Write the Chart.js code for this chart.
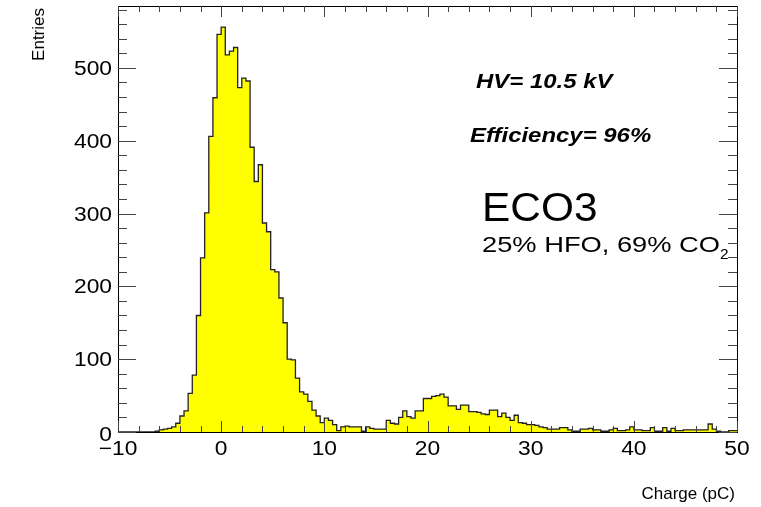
<!DOCTYPE html>
<html>
<head>
<meta charset="utf-8">
<script src="https://cdn.jsdelivr.net/npm/chart.js@4.4.1/dist/chart.umd.min.js"></script>
<style>
  html, body { margin: 0; padding: 0; background: #fff; }
  #wrap { width: 761px; height: 507px; }
</style>
</head>
<body>
<div id="wrap"><canvas id="myChart" width="761" height="507"></canvas></div>
<script>
// histogram: 150 bins of 0.4 pC from -10 to 50
const binLow = -10;
const binWidth = 0.4;
const entries = [
  0, 0, 0, 0, 0, 0, 0, 0, 0, 0,
  1, 3, 4, 5, 7, 12, 22, 29, 53, 78,
  160, 239, 301, 406, 459, 546, 556, 518, 523, 528,
  473, 486, 482, 391, 344, 367, 287, 275, 223, 220,
  184, 150, 100, 99, 74, 55, 52, 42, 30, 22,
  13, 19, 16, 10, 2, 7, 8, 7, 7, 7,
  1, 7, 5, 4, 4, 4, 16, 12, 11, 20,
  29, 21, 19, 29, 29, 46, 46, 49, 50, 52,
  48, 36, 36, 31, 37, 37, 28, 28, 27, 25,
  24, 30, 30, 21, 26, 20, 16, 23, 13, 12,
  10, 10, 9, 7, 6, 4, 4, 4, 6, 6,
  3, 1, 1, 4, 4, 5, 3, 3, 1, 1,
  3, 5, 2, 2, 3, 7, 3, 3, 2, 2,
  6, 1, 1, 6, 1, 5, 2, 2, 3, 3,
  3, 3, 3, 3, 11, 4, 1, 0, 0, 2
];
const xTicks = [-10, 0, 10, 20, 30, 40, 50];
const xTickLabels = ['\u221210', '0', '10', '20', '30', '40', '50'];
const yTicks = [0, 100, 200, 300, 400, 500];
const yTickLabels = ['0', '100', '200', '300', '400', '500'];
const yMax = 585;

// step outline points at bin edges
const stepData = entries.map((v, i) => ({x: binLow + i * binWidth, y: v}));
stepData.push({x: binLow + entries.length * binWidth, y: entries[entries.length - 1]});

const FONT = '"Liberation Sans", Arial, Helvetica, sans-serif';

// text drawn a bit wider than the font, like the original plot
function wideText(ctx, text, x, y, align, sx) {
  ctx.save();
  ctx.translate(x, y);
  ctx.scale(sx, 1);
  ctx.textAlign = align;
  ctx.fillText(text, 0, 0);
  const w = ctx.measureText(text).width * sx;
  ctx.restore();
  return w;
}

const rootFrame = {
  id: 'rootFrame',
  afterDatasetsDraw(chart) {
    const ctx = chart.ctx;
    const a = chart.chartArea;
    const xs = chart.scales.x, ys = chart.scales.y;
    ctx.save();
    ctx.strokeStyle = '#000';
    ctx.lineWidth = 1;
    ctx.strokeRect(a.left + 0.5, a.top + 0.5, a.right - a.left, a.bottom - a.top);
    ctx.strokeStyle = '#444';
    ctx.beginPath();
    for (let v = -10; v <= 50; v += 2) {
      const px = Math.round(xs.getPixelForValue(v)) + 0.5;
      const len = (v % 10 === 0) ? 11 : 6;
      ctx.moveTo(px, a.bottom); ctx.lineTo(px, a.bottom - len);
      ctx.moveTo(px, a.top); ctx.lineTo(px, a.top + len);
    }
    for (let v = 0; v <= yMax; v += 20) {
      const py = Math.round(ys.getPixelForValue(v)) + 0.5;
      const len = (v % 100 === 0) ? 18 : 9;
      ctx.moveTo(a.left, py); ctx.lineTo(a.left + len, py);
      ctx.moveTo(a.right, py); ctx.lineTo(a.right - len, py);
    }
    ctx.stroke();

    ctx.fillStyle = '#000';
    ctx.textBaseline = 'alphabetic';

    // tick labels
    ctx.font = '20px ' + FONT;
    xTicks.forEach((v, i) => {
      wideText(ctx, xTickLabels[i], xs.getPixelForValue(v), 455, 'center', 1.14);
    });
    yTicks.forEach((v, i) => {
      const py = ys.getPixelForValue(v) + 7 + (v === 0 ? 2 : 0);
      wideText(ctx, yTickLabels[i], a.left - 6, py, 'right', 1.14);
    });

    // axis titles
    ctx.font = '17px ' + FONT;
    ctx.textAlign = 'right';
    ctx.fillText('Charge (pC)', 735, 499);
    ctx.save();
    ctx.translate(44, 8);
    ctx.rotate(-Math.PI / 2);
    ctx.textAlign = 'right';
    ctx.fillText('Entries', 0, 0);
    ctx.restore();

    // annotations
    ctx.font = 'italic bold 21px ' + FONT;
    wideText(ctx, 'HV= 10.5 kV', 476, 88, 'left', 1.14);
    wideText(ctx, 'Efficiency= 96%', 470, 142, 'left', 1.14);
    ctx.font = '40px ' + FONT;
    wideText(ctx, 'ECO3', 482, 221, 'left', 1.06);
    ctx.font = '22px ' + FONT;
    const w = wideText(ctx, '25% HFO, 69% CO', 482, 252, 'left', 1.24);
    ctx.font = '14px ' + FONT;
    wideText(ctx, '2', 482 + w, 259, 'left', 1.1);
    ctx.restore();
  }
};

const ctx = document.getElementById('myChart').getContext('2d');
const myChart = new Chart(ctx, {
  type: 'line',
  data: {
    datasets: [{
      label: 'Charge',
      data: stepData,
      stepped: 'after',
      fill: 'origin',
      backgroundColor: '#ffff00',
      borderColor: '#222',
      borderWidth: 1.3,
      pointRadius: 0
    }]
  },
  options: {
    responsive: false,
    animation: false,
    layout: { padding: { left: 0, right: 24, top: 6, bottom: 0 } },
    plugins: { legend: { display: false }, tooltip: { enabled: false } },
    scales: {
      x: {
        type: 'linear',
        min: -10,
        max: 50,
        afterBuildTicks: s => { s.ticks = xTicks.map(v => ({value: v})); },
        afterFit: s => { s.height = 75; s.paddingLeft = 0; s.paddingRight = 0; },
        grid: { display: false, drawTicks: false },
        border: { display: false },
        ticks: { display: false }
      },
      y: {
        min: 0,
        max: yMax,
        afterBuildTicks: s => { s.ticks = yTicks.map(v => ({value: v})); },
        afterFit: s => { s.width = 118; s.paddingTop = 0; s.paddingBottom = 0; },
        grid: { display: false, drawTicks: false },
        border: { display: false },
        ticks: { display: false }
      }
    }
  },
  plugins: [rootFrame]
});
</script>
</body>
</html>
